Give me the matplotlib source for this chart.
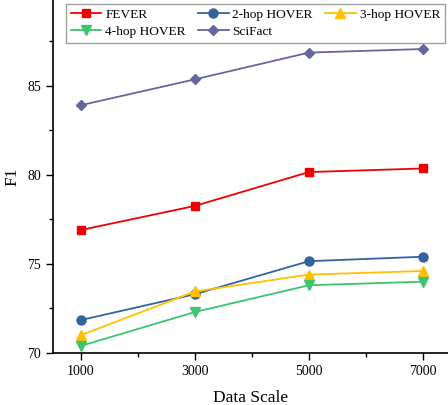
import matplotlib
matplotlib.use("Agg")
import matplotlib.pyplot as plt
from matplotlib.ticker import MultipleLocator

plt.rcParams["font.family"] = ["Liberation Serif", "DejaVu Serif"]

# data
scales = [1000, 3000, 5000, 7000]
fever = [76.9, 78.25, 80.15, 80.35]
hop2 = [71.85, 73.3, 75.15, 75.4]
hop3 = [71.0, 73.45, 74.4, 74.6]
hop4 = [70.4, 72.3, 73.8, 74.0]
scifact = [83.9, 85.35, 86.85, 87.05]

series = [
    ("FEVER", fever, "#F00000", "s"),
    ("2-hop HOVER", hop2, "#33639E", "o"),
    ("3-hop HOVER", hop3, "#FFC000", "^"),
    ("4-hop HOVER", hop4, "#3CC46E", "v"),
    ("SciFact", scifact, "#65669E", "D"),
]

fig = plt.figure(figsize=(4.48, 4.05), dpi=100)
ax = fig.add_axes([53 / 448, 52 / 405, 395 / 448, 353 / 405])

lines = {}
for name, vals, color, marker in series:
    ms = 5.5 if marker in ("D", "s") else 6.5
    (ln,) = ax.plot(scales, vals, color=color, marker=marker, markersize=ms,
                    linewidth=1.3, label=name)
    lines[name] = ln

ax.set_xlim(509, 7440)
ax.set_ylim(70, 89.8)
ax.set_xticks(scales)
ax.xaxis.set_minor_locator(MultipleLocator(1000))
ax.set_yticks([70, 75, 80, 85])
ax.yaxis.set_minor_locator(MultipleLocator(2.5))
ax.tick_params(which="major", direction="out", length=5, width=1, labelsize=10)
ax.tick_params(which="minor", direction="out", length=3, width=1)

ax.spines["top"].set_visible(False)
ax.spines["right"].set_visible(False)
ax.spines["left"].set_linewidth(1.2)
ax.spines["bottom"].set_linewidth(1.2)

ax.set_xlabel("Data Scale", fontsize=12.5, labelpad=9)
ax.set_ylabel("F1", fontsize=12.5, labelpad=5)

# column-major order so rows read FEVER, 2-hop, 3-hop / 4-hop, SciFact
order = ["FEVER", "4-hop HOVER", "2-hop HOVER", "SciFact", "3-hop HOVER"]
leg = ax.legend([lines[n] for n in order], order, ncol=3, loc="upper left",
                bbox_to_anchor=(66 / 448, 1 - 4 / 405),
                bbox_transform=fig.transFigure, fontsize=9.6, frameon=True,
                fancybox=False, edgecolor="#888888", handlelength=2.3,
                handletextpad=0.3, columnspacing=0.9, labelspacing=0.35,
                borderpad=0.35, borderaxespad=0)
leg.get_frame().set_linewidth(1.0)

fig.savefig("out.png", dpi=100)
